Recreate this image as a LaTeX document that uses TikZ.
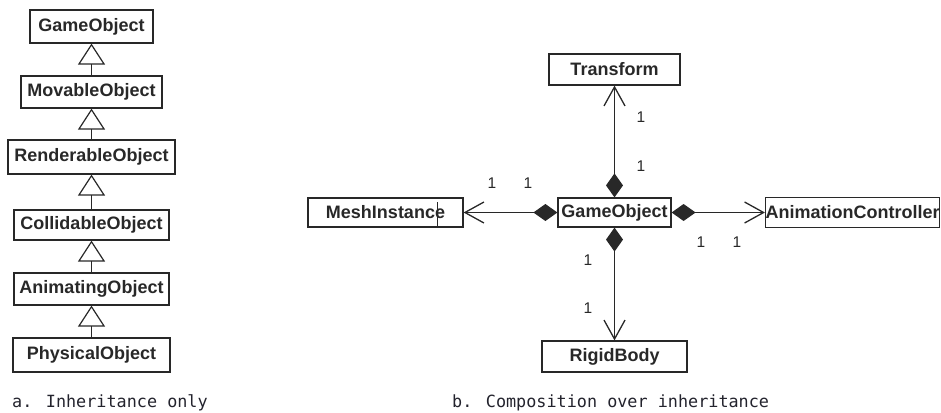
\documentclass[tikz,border=0pt]{standalone}
\usepackage{fontspec}
\setmainfont{Liberation Sans}
\newfontfamily\capfont{DejaVu Sans Mono}
\usetikzlibrary{arrows.meta}
\definecolor{ink}{RGB}{40,40,40}
\definecolor{capink}{RGB}{35,35,45}
\tikzset{
  cls/.style={draw=ink, line width=1.2pt, inner sep=0pt, text=ink,
              font=\fontsize{18}{20}\selectfont\bfseries},
  mult/.style={text=ink, inner sep=0pt, font=\fontsize{15.5}{17}\selectfont},
  capt/.style={text=capink, inner sep=0pt, anchor=base west,
               font=\capfont\fontsize{16.8}{20}\selectfont},
  isa/.style={draw=ink, line width=1.2pt,
              -{Triangle[open, length=21pt, width=27pt, line width=1.2pt]}},
  hasa/.style={draw=ink, line width=1.3pt,
               {Diamond[length=24pt, width=17pt, fill=ink]}-{Straight Barb[length=19pt, width=21pt, line width=1.3pt]}}
}
\begin{document}
\begin{tikzpicture}[x=1pt, y=-1pt]
\useasboundingbox (0,0) rectangle (941,412);

% inheritance chain
\node[cls, minimum width=123pt, minimum height=33pt] (lgo) at (91.5,26.5) {GameObject};
\node[cls, minimum width=141pt, minimum height=32pt] (lmo) at (91.5,92) {MovableObject};
\node[cls, minimum width=167pt, minimum height=34pt] (lro) at (91.5,157) {RenderableObject};
\node[cls, minimum width=155pt, minimum height=30pt] (lco) at (91.5,225) {CollidableObject};
\node[cls, minimum width=155pt, minimum height=32pt] (lao) at (91.5,289) {AnimatingObject};
\node[cls, minimum width=157pt, minimum height=34pt] (lpo) at (91.5,355) {PhysicalObject};

\draw[isa] (lmo.north) -- (lgo.south);
\draw[isa] (lro.north) -- (lmo.south);
\draw[isa] (lco.north) -- (lro.south);
\draw[isa] (lao.north) -- (lco.south);
\draw[isa] (lpo.north) -- (lao.south);

% composition
\node[cls, minimum width=113pt, minimum height=29pt] (go) at (614.5,212.5) {GameObject};
\node[cls, minimum width=131pt, minimum height=31pt] (tr) at (614.5,69.5) {Transform};
\node[cls, minimum width=155pt, minimum height=29pt] (mi) at (385.5,212.5) {MeshInstance};
\node[cls, minimum width=173pt, minimum height=30pt] (ac) at (852.5,212.5) {AnimationController};
\node[cls, minimum width=145pt, minimum height=31pt] (rb) at (614.5,356.5) {RigidBody};

% stray vertical mark inside the MeshInstance box
\draw[ink, line width=1pt] (437,202) -- (437,227);

\draw[hasa] (go.north) -- (tr.south);
\draw[hasa] (go.west) -- (mi.east);
\draw[hasa] (go.east) -- (ac.west);
\draw[hasa] (go.south) -- (rb.north);

\node[mult] (m1) at (641,117.5) {1};
\node[mult] (m2) at (641,166) {1};
\node[mult] (m3) at (492,183) {1};
\node[mult] (m4) at (528,183) {1};
\node[mult] (m5) at (701,242) {1};
\node[mult] (m6) at (737,242) {1};
\node[mult] (m7) at (588,260) {1};
\node[mult] (m8) at (588,308) {1};

\node[capt] (ca) at (12,407) {a. Inheritance only};
\node[capt] (cb) at (452,407) {b. Composition over inheritance};
\end{tikzpicture}
\end{document}
